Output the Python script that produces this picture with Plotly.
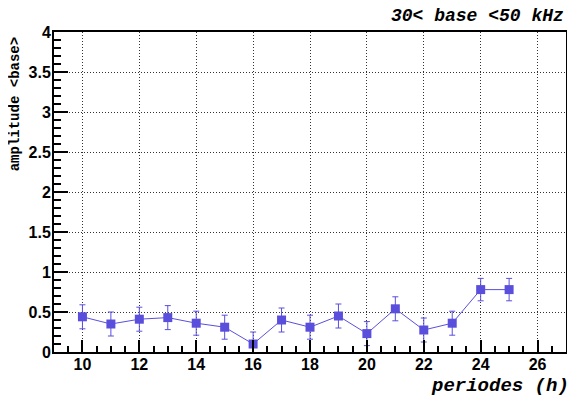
import plotly.graph_objects as go

periodes = [10, 11, 12, 13, 14, 15, 16, 17, 18, 19, 20, 21, 22, 23, 24, 25]
amplitude = [0.44, 0.35, 0.41, 0.43, 0.36, 0.31, 0.10, 0.40, 0.31, 0.45, 0.23, 0.54, 0.275, 0.36, 0.78, 0.78]
erreur = [0.15, 0.15, 0.15, 0.15, 0.15, 0.15, 0.15, 0.15, 0.15, 0.15, 0.15, 0.15, 0.15, 0.15, 0.14, 0.14]

bleu = "#5a4fdc"
mono = "Liberation Mono, Courier New, monospace"
tick_font = dict(family="Liberation Sans", size=16, color="black", weight="bold")

fig = go.Figure()
fig.add_trace(go.Scatter(
    x=periodes, y=amplitude,
    mode="lines+markers",
    line=dict(color=bleu, width=1),
    marker=dict(symbol="square", size=9, color=bleu),
    error_y=dict(type="data", array=erreur, color=bleu, thickness=1, width=3),
    showlegend=False,
))

# the page body adds an 8px margin, so the figure is 8px smaller
fig.update_layout(
    width=567, height=392,
    margin=dict(l=46, r=7, t=24, b=48),
    paper_bgcolor="white", plot_bgcolor="white",
)
fig.update_xaxes(
    range=[9, 27], tick0=10, dtick=2,
    ticks="inside", ticklen=12, tickwidth=2, tickcolor="black",
    minor=dict(dtick=0.5, ticks="inside", ticklen=6, tickcolor="black", showgrid=False),
    showgrid=True, gridcolor="#333", griddash="1px,2px", gridwidth=1,
    showline=True, linecolor="black", linewidth=2, mirror=True,
    tickfont=tick_font, zeroline=False, ticklabelstandoff=-3,
)
fig.update_yaxes(
    range=[0, 4], tick0=0, dtick=0.5,
    ticks="inside", ticklen=14, tickwidth=2, tickcolor="black",
    minor=dict(dtick=0.1, ticks="inside", ticklen=7, tickcolor="black", showgrid=False),
    showgrid=True, gridcolor="#333", griddash="1px,2px", gridwidth=1,
    showline=True, linecolor="black", linewidth=2, mirror=True,
    tickfont=tick_font, zeroline=False, ticklabelstandoff=-2,
)

fig.add_annotation(
    text="<b><i>30&lt; base &lt;50 kHz</i></b>", xref="paper", yref="paper",
    x=1, y=1.05, xanchor="right", yanchor="middle", showarrow=False,
    font=dict(family=mono, size=18, color="black"),
)
fig.add_annotation(
    text="<b><i>periodes (h)</i></b>", xref="paper", yref="paper",
    x=1.01, y=-0.105, xanchor="right", yanchor="middle", showarrow=False,
    font=dict(family=mono, size=19, color="black"),
)
fig.add_annotation(
    text="<b>amplitude &lt;base&gt;</b>", xref="paper", yref="paper",
    x=-0.076, y=0.99, xanchor="center", yanchor="top", textangle=-90, showarrow=False,
    font=dict(family=mono, size=14, color="black"),
)

fig.write_html("out.html")
